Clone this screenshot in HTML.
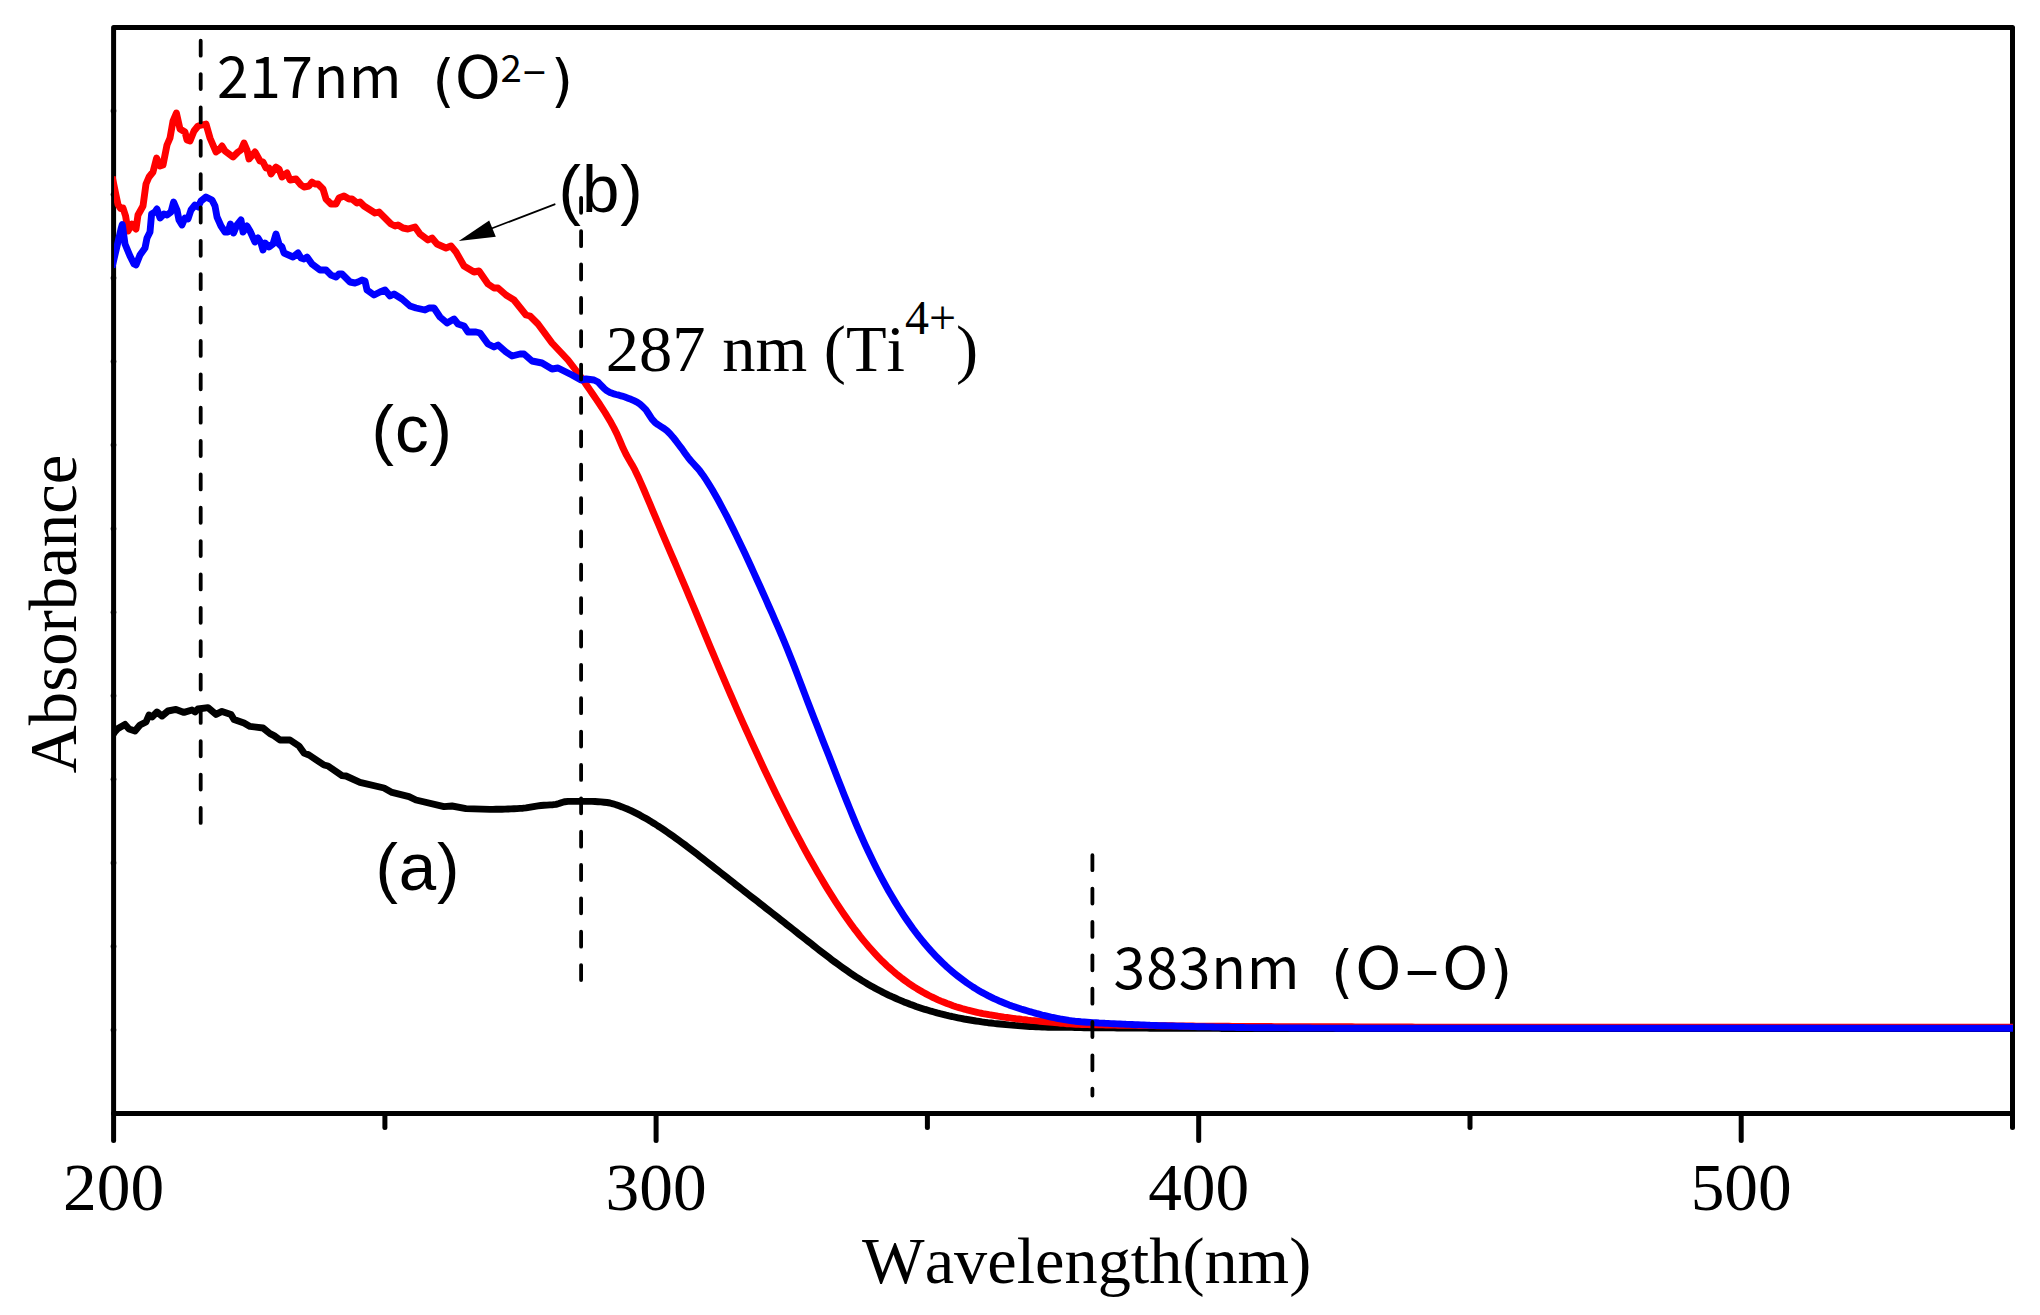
<!DOCTYPE html>
<html lang="en">
<head>
<meta charset="utf-8">
<title>UV-vis absorbance spectra</title>
<style>
html,body{margin:0;padding:0;background:#fff;}
body{width:2040px;height:1315px;overflow:hidden;}
svg{display:block;}
text{font-kerning:none;}
.serif{font-family:"Liberation Serif","Noto Serif CJK SC",serif;}
.sans{font-family:"Liberation Sans","Noto Sans CJK SC",sans-serif;}
.cjk{font-family:"Noto Sans CJK SC","Liberation Sans",sans-serif;}
.dv{font-family:"DejaVu Sans","Liberation Sans",sans-serif;}
</style>
</head>
<body>
<svg width="2040" height="1315" viewBox="0 0 2040 1315">
<rect x="0" y="0" width="2040" height="1315" fill="#ffffff"/>

<!-- frame and ticks -->
<rect x="113.6" y="27.4" width="1898.9" height="1086.1" fill="none" stroke="#000" stroke-width="5.0" stroke-linejoin="round"/>
<g stroke="#000" stroke-width="5" stroke-linecap="round">
<line x1="113.6" y1="1113.5" x2="113.6" y2="1140.5"/>
<line x1="384.9" y1="1113.5" x2="384.9" y2="1127.6"/>
<line x1="656.1" y1="1113.5" x2="656.1" y2="1140.5"/>
<line x1="927.4" y1="1113.5" x2="927.4" y2="1127.6"/>
<line x1="1198.7" y1="1113.5" x2="1198.7" y2="1140.5"/>
<line x1="1470.0" y1="1113.5" x2="1470.0" y2="1127.6"/>
<line x1="1741.2" y1="1113.5" x2="1741.2" y2="1140.5"/>
<line x1="2012.5" y1="1113.5" x2="2012.5" y2="1127.6"/>
</g>
<g fill="#000">
<circle cx="113.5" cy="110.9" r="2.8"/>
<circle cx="113.5" cy="194.5" r="2.8"/>
<circle cx="113.5" cy="278.0" r="2.8"/>
<circle cx="113.5" cy="361.6" r="2.8"/>
<circle cx="113.5" cy="445.1" r="2.8"/>
<circle cx="113.5" cy="528.7" r="2.8"/>
<circle cx="113.5" cy="612.2" r="2.8"/>
<circle cx="113.5" cy="695.8" r="2.8"/>
<circle cx="113.5" cy="779.3" r="2.8"/>
<circle cx="113.5" cy="862.9" r="2.8"/>
<circle cx="113.5" cy="946.4" r="2.8"/>
<circle cx="113.5" cy="1030.0" r="2.8"/>
</g>

<!-- curves: (a) black, (b) red, (c) blue -->
<clipPath id="plotclip"><rect x="113.95" y="20" width="1899.15" height="1100"/></clipPath>
<g fill="none" stroke-width="6.9" stroke-linejoin="round" stroke-linecap="butt" clip-path="url(#plotclip)">
<path stroke="#000000" d="M112.0 736.0L115.0 731.6L118.0 728.4L125.0 724.4L129.0 729.0L135.0 731.0L140.0 725.0L146.0 722.0L149.0 715.0L152.0 717.0L157.0 712.0L162.0 716.0L168.0 711.0L176.0 709.4L184.0 712.4L192.0 710.0L195.0 712.0L198.0 709.0L208.0 707.6L216.0 714.4L222.0 711.4L231.0 714.4L234.0 719.4L244.0 723.0L250.0 726.4L263.0 728.0L270.0 733.6L274.0 735.6L280.0 740.0L290.0 740.0L299.0 746.0L304.0 753.0L309.0 755.0L324.0 765.0L328.0 766.0L342.0 775.6L346.0 776.0L360.0 782.4L384.0 788.0L392.0 792.4L409.0 796.6L416.0 800.0L444.0 806.6L452.0 806.0L466.0 808.6L490.0 809.4L493.0 809.4L496.0 809.3L499.0 809.3L502.0 809.2L505.0 809.1L508.0 809.0L511.0 808.9L514.0 808.7L517.0 808.6L520.0 808.4L523.0 808.2L526.0 807.8L529.0 807.3L532.0 806.8L535.0 806.3L538.0 805.9L541.0 805.5L544.0 805.2L547.0 805.1L550.0 804.9L553.0 804.7L556.0 804.3L559.0 803.5L562.0 802.5L565.0 801.7L568.0 801.4L571.0 801.4L574.0 801.4L577.0 801.4L580.0 801.4L583.0 801.4L586.0 801.4L589.0 801.4L592.0 801.4L595.0 801.5L598.0 801.7L601.0 801.9L604.0 802.2L607.0 802.5L610.0 803.0L613.0 803.8L616.0 804.7L619.0 805.8L622.0 806.9L625.0 808.1L628.0 809.3L631.0 810.7L634.0 812.2L637.0 813.7L640.0 815.2L643.0 816.9L646.0 818.6L649.0 820.3L652.0 822.2L655.0 824.0L658.0 826.0L661.0 827.9L664.0 829.9L667.0 832.0L670.0 834.1L673.0 836.2L676.0 838.3L679.0 840.5L682.0 842.7L685.0 844.9L688.0 847.2L691.0 849.5L694.0 851.8L697.0 854.1L700.0 856.4L703.0 858.7L706.0 861.1L709.0 863.4L712.0 865.8L715.0 868.2L718.0 870.5L721.0 872.9L724.0 875.3L727.0 877.6L730.0 880.0L733.0 882.3L736.0 884.7L739.0 887.0L742.0 889.4L745.0 891.7L748.0 894.1L751.0 896.4L754.0 898.8L757.0 901.1L760.0 903.5L763.0 905.8L766.0 908.2L769.0 910.5L772.0 912.9L775.0 915.3L778.0 917.6L781.0 920.0L784.0 922.3L787.0 924.7L790.0 927.0L793.0 929.4L796.0 931.8L799.0 934.2L802.0 936.5L805.0 938.9L808.0 941.3L811.0 943.6L814.0 946.0L817.0 948.4L820.0 950.7L823.0 953.0L826.0 955.3L829.0 957.6L832.0 959.9L835.0 962.1L838.0 964.3L841.0 966.5L844.0 968.6L847.0 970.7L850.0 972.8L853.0 974.8L856.0 976.8L859.0 978.7L862.0 980.6L865.0 982.4L868.0 984.2L871.0 985.9L874.0 987.6L877.0 989.2L880.0 990.8L883.0 992.4L886.0 993.8L889.0 995.3L892.0 996.7L895.0 998.0L898.0 999.4L901.0 1000.6L904.0 1001.9L907.0 1003.0L910.0 1004.2L913.0 1005.3L916.0 1006.4L919.0 1007.4L922.0 1008.4L925.0 1009.4L928.0 1010.3L931.0 1011.2L934.0 1012.0L937.0 1012.9L940.0 1013.7L943.0 1014.4L946.0 1015.2L949.0 1015.9L952.0 1016.5L955.0 1017.2L958.0 1017.8L961.0 1018.4L964.0 1019.0L967.0 1019.5L970.0 1020.0L973.0 1020.5L976.0 1021.0L979.0 1021.4L982.0 1021.9L985.0 1022.3L988.0 1022.7L991.0 1023.0L994.0 1023.4L997.0 1023.7L1000.0 1024.0L1003.0 1024.3L1006.0 1024.6L1009.0 1024.9L1012.0 1025.1L1015.0 1025.4L1018.0 1025.6L1021.0 1025.9L1024.0 1026.1L1027.0 1026.3L1030.0 1026.5L1033.0 1026.6L1036.0 1026.8L1039.0 1026.9L1042.0 1027.0L1045.0 1027.1L1048.0 1027.2L1051.0 1027.2L1054.0 1027.2L1057.0 1027.2L1060.0 1027.3L1063.0 1027.3L1066.0 1027.3L1069.0 1027.3L1072.0 1027.4L1075.0 1027.5L1078.0 1027.6L1081.0 1027.6L1084.0 1027.7L1087.0 1027.7L1090.0 1027.7L1093.0 1027.8L1096.0 1027.8L1099.0 1027.8L1102.0 1027.8L1105.0 1027.9L1108.0 1027.9L1111.0 1027.9L1114.0 1027.9L1117.0 1028.0L1120.0 1028.0L1123.0 1028.0L1126.0 1028.0L1129.0 1028.0L1132.0 1028.1L1135.0 1028.1L1138.0 1028.1L1141.0 1028.1L1144.0 1028.1L1147.0 1028.1L1150.0 1028.2L1153.0 1028.2L1156.0 1028.2L1159.0 1028.2L1162.0 1028.2L1165.0 1028.2L1168.0 1028.2L1171.0 1028.3L1174.0 1028.3L1177.0 1028.3L1180.0 1028.3L1183.0 1028.3L1186.0 1028.3L1189.0 1028.3L1192.0 1028.3L1195.0 1028.4L1198.0 1028.4L1201.0 1028.4L1204.0 1028.4L1207.0 1028.4L1210.0 1028.4L1213.0 1028.4L1216.0 1028.4L1219.0 1028.4L1222.0 1028.5L1225.0 1028.5L1228.0 1028.5L1231.0 1028.5L1234.0 1028.5L1237.0 1028.5L1240.0 1028.5L1243.0 1028.5L1246.0 1028.5L1249.0 1028.5L1252.0 1028.5L1255.0 1028.5L1258.0 1028.5L1261.0 1028.5L1264.0 1028.6L1267.0 1028.6L1270.0 1028.6L1273.0 1028.6L1276.0 1028.6L1279.0 1028.6L1282.0 1028.6L1285.0 1028.6L1288.0 1028.6L1291.0 1028.6L1294.0 1028.6L1297.0 1028.6L2016.0 1028.6"/>
<path stroke="#ff0000" d="M112.2 176.6L116.0 195.2L118.0 204.5L120.5 208.5L123.0 208.0L125.6 216.0L128.0 231.0L132.0 224.0L136.0 229.0L138.0 215.0L143.0 206.0L146.0 184.0L149.0 177.0L153.0 172.0L156.6 158.0L160.0 166.0L163.0 165.0L167.0 145.0L170.0 138.0L173.0 121.0L176.4 113.0L180.0 129.0L185.0 132.0L187.0 140.0L190.0 141.0L194.0 131.0L198.0 126.0L202.0 125.0L206.0 124.0L210.0 138.0L216.0 152.0L219.0 150.0L222.0 146.0L225.0 151.0L233.0 157.0L238.0 152.0L241.0 150.0L244.0 143.0L247.0 150.0L249.0 159.0L255.0 152.0L260.0 161.0L263.0 162.0L266.0 168.0L269.0 168.0L271.0 174.0L276.0 167.0L279.0 169.0L282.0 177.0L287.0 173.0L290.0 180.0L296.0 179.0L301.0 185.0L304.0 187.0L309.0 186.0L312.0 182.0L315.0 184.0L318.0 184.0L323.0 189.0L326.0 199.0L331.0 204.0L336.0 204.0L339.0 198.0L344.0 196.0L349.0 199.0L352.0 199.0L357.0 203.0L360.0 202.0L364.0 206.0L375.0 213.0L379.0 212.0L384.0 217.0L391.0 224.0L395.0 226.0L398.0 225.0L403.0 228.0L408.0 229.0L415.0 227.0L420.0 234.0L428.0 240.0L432.0 238.0L437.0 244.0L446.0 248.0L451.0 246.0L456.0 252.0L464.0 266.0L474.0 272.0L479.0 271.0L488.0 284.0L494.0 288.0L498.0 288.0L506.0 295.0L514.0 300.0L526.0 315.0L530.0 316.0L538.0 324.0L552.0 343.0L568.0 360.0L581.0 377.0L584.0 381.3L587.0 385.7L590.0 390.1L593.0 394.5L596.0 398.9L599.0 403.3L602.0 407.8L605.0 412.5L608.0 417.5L611.0 422.6L614.0 428.1L617.0 434.1L620.0 441.0L623.0 448.1L626.0 454.3L629.0 459.6L632.0 464.7L635.0 470.2L638.0 476.4L641.0 483.1L644.0 490.0L647.0 497.1L650.0 504.2L653.0 511.3L656.0 518.4L659.0 525.5L662.0 532.6L665.0 539.6L668.0 546.6L671.0 553.6L674.0 560.5L677.0 567.5L680.0 574.6L683.0 581.6L686.0 588.7L689.0 595.8L692.0 603.0L695.0 610.2L698.0 617.4L701.0 624.6L704.0 631.9L707.0 639.1L710.0 646.3L713.0 653.4L716.0 660.5L719.0 667.6L722.0 674.6L725.0 681.6L728.0 688.6L731.0 695.5L734.0 702.4L737.0 709.3L740.0 716.1L743.0 722.8L746.0 729.5L749.0 736.2L752.0 742.8L755.0 749.3L758.0 755.8L761.0 762.3L764.0 768.7L767.0 775.0L770.0 781.3L773.0 787.5L776.0 793.7L779.0 799.8L782.0 805.8L785.0 811.8L788.0 817.7L791.0 823.6L794.0 829.4L797.0 835.1L800.0 840.7L803.0 846.3L806.0 851.8L809.0 857.2L812.0 862.5L815.0 867.8L818.0 873.0L821.0 878.1L824.0 883.1L827.0 888.1L830.0 892.9L833.0 897.7L836.0 902.3L839.0 906.9L842.0 911.4L845.0 915.8L848.0 920.0L851.0 924.2L854.0 928.3L857.0 932.2L860.0 936.1L863.0 939.8L866.0 943.4L869.0 946.9L872.0 950.3L875.0 953.6L878.0 956.8L881.0 959.9L884.0 962.8L887.0 965.7L890.0 968.4L893.0 971.0L896.0 973.6L899.0 976.0L902.0 978.4L905.0 980.6L908.0 982.8L911.0 984.8L914.0 986.8L917.0 988.7L920.0 990.5L923.0 992.3L926.0 993.9L929.0 995.5L932.0 997.0L935.0 998.4L938.0 999.8L941.0 1001.1L944.0 1002.3L947.0 1003.5L950.0 1004.6L953.0 1005.7L956.0 1006.7L959.0 1007.6L962.0 1008.5L965.0 1009.3L968.0 1010.2L971.0 1010.9L974.0 1011.6L977.0 1012.3L980.0 1013.0L983.0 1013.6L986.0 1014.1L989.0 1014.7L992.0 1015.2L995.0 1015.7L998.0 1016.2L1001.0 1016.6L1004.0 1017.1L1007.0 1017.5L1010.0 1017.9L1013.0 1018.3L1016.0 1018.7L1019.0 1019.0L1022.0 1019.4L1025.0 1019.7L1028.0 1020.1L1031.0 1020.4L1034.0 1020.6L1037.0 1020.9L1040.0 1021.2L1043.0 1021.5L1046.0 1021.8L1049.0 1022.1L1052.0 1022.4L1055.0 1022.6L1058.0 1022.9L1061.0 1023.2L1064.0 1023.4L1067.0 1023.7L1070.0 1023.9L1073.0 1024.1L1076.0 1024.2L1079.0 1024.4L1082.0 1024.5L1085.0 1024.5L1088.0 1024.6L1091.0 1024.7L1094.0 1024.8L1097.0 1024.8L1100.0 1024.9L1103.0 1024.9L1106.0 1025.0L1109.0 1025.0L1112.0 1025.1L1115.0 1025.1L1118.0 1025.2L1121.0 1025.2L1124.0 1025.3L1127.0 1025.3L1130.0 1025.3L1133.0 1025.4L1136.0 1025.4L1139.0 1025.5L1142.0 1025.5L1145.0 1025.5L1148.0 1025.6L1151.0 1025.6L1154.0 1025.6L1157.0 1025.7L1160.0 1025.7L1163.0 1025.7L1166.0 1025.8L1169.0 1025.8L1172.0 1025.8L1175.0 1025.9L1178.0 1025.9L1181.0 1025.9L1184.0 1026.0L1187.0 1026.0L1190.0 1026.0L1193.0 1026.0L1196.0 1026.1L1199.0 1026.1L1202.0 1026.1L1205.0 1026.1L1208.0 1026.2L1211.0 1026.2L1214.0 1026.2L1217.0 1026.2L1220.0 1026.3L1223.0 1026.3L1226.0 1026.3L1229.0 1026.3L1232.0 1026.4L1235.0 1026.4L1238.0 1026.4L1241.0 1026.4L1244.0 1026.4L1247.0 1026.4L1250.0 1026.5L1253.0 1026.5L1256.0 1026.5L1259.0 1026.5L1262.0 1026.5L1265.0 1026.5L1268.0 1026.5L1271.0 1026.5L1274.0 1026.6L1277.0 1026.6L1280.0 1026.6L1283.0 1026.6L1286.0 1026.6L1289.0 1026.6L1292.0 1026.6L1295.0 1026.6L1298.0 1026.7L1301.0 1026.7L1304.0 1026.7L1307.0 1026.7L1310.0 1026.7L1313.0 1026.7L1316.0 1026.7L1319.0 1026.7L1322.0 1026.7L1325.0 1026.8L1328.0 1026.8L1331.0 1026.8L1334.0 1026.8L1337.0 1026.8L1340.0 1026.8L1343.0 1026.8L1346.0 1026.8L1349.0 1026.8L1352.0 1026.8L1355.0 1026.9L1358.0 1026.9L1361.0 1026.9L1364.0 1026.9L1367.0 1026.9L1370.0 1026.9L1373.0 1026.9L1376.0 1026.9L1379.0 1026.9L1382.0 1026.9L1385.0 1026.9L1388.0 1027.0L1391.0 1027.0L1394.0 1027.0L1397.0 1027.0L1400.0 1027.0L1403.0 1027.0L1406.0 1027.0L1409.0 1027.0L1412.0 1027.0L1415.0 1027.1L1418.0 1027.1L1421.0 1027.1L1424.0 1027.1L1427.0 1027.1L1430.0 1027.1L1433.0 1027.1L1436.0 1027.1L1439.0 1027.2L1442.0 1027.2L1445.0 1027.2L1448.0 1027.2L1451.0 1027.2L1454.0 1027.2L1457.0 1027.2L2016.0 1027.2"/>
<path stroke="#0000ff" d="M112.0 267.5L115.0 254.7L118.0 242.0L121.0 229.0L122.3 224.5L125.0 244.0L130.0 256.0L134.0 264.0L136.0 265.0L140.0 255.0L145.0 248.0L147.0 238.0L150.0 232.0L151.6 214.0L155.0 212.0L157.0 209.0L160.0 218.0L164.0 214.0L167.0 215.0L171.0 212.0L173.6 202.0L177.0 210.0L179.0 220.0L182.0 225.0L185.0 218.0L188.0 219.0L191.0 210.0L195.0 205.0L198.0 207.0L201.0 201.0L206.0 197.0L212.0 200.0L215.0 206.0L217.0 217.0L221.0 226.0L225.0 232.0L228.0 232.0L230.4 224.0L233.6 233.0L237.0 225.0L241.0 220.0L243.0 232.0L247.0 226.0L250.0 231.0L255.0 242.0L258.0 238.0L261.0 243.0L263.0 250.0L265.0 243.0L269.0 247.0L273.0 244.0L276.0 234.0L279.0 244.0L282.0 247.0L284.0 253.0L293.0 257.0L298.0 253.0L301.0 258.0L304.0 259.0L307.0 257.0L312.0 264.0L320.0 270.0L326.0 270.0L331.0 275.0L336.0 277.0L339.0 274.0L342.0 274.0L350.0 282.0L355.0 283.0L358.0 282.0L362.0 280.0L365.0 281.0L367.0 290.0L374.0 295.0L380.0 292.0L385.0 290.0L390.0 296.0L394.0 294.0L402.0 299.0L410.0 306.0L416.0 308.0L425.0 310.0L429.0 308.0L434.0 308.0L440.0 317.0L447.0 323.0L454.0 319.0L458.0 324.0L464.0 326.0L468.0 332.0L476.0 332.0L480.0 333.0L488.0 344.0L494.0 347.0L498.0 345.0L506.0 352.0L512.0 356.0L520.0 354.0L524.0 354.0L532.0 361.0L542.0 363.0L552.0 369.0L558.0 368.0L572.0 375.0L581.0 380.0L586.0 379.0L594.0 380.0L598.0 382.0L601.0 385.3L604.0 388.3L607.0 390.8L610.0 392.5L613.0 393.6L616.0 394.5L619.0 395.2L622.0 396.1L625.0 397.1L628.0 398.2L631.0 399.3L634.0 400.7L637.0 402.2L640.0 404.2L643.0 406.8L646.0 409.9L649.0 414.5L652.0 419.1L655.0 422.4L658.0 424.7L661.0 426.6L664.0 428.5L667.0 430.8L670.0 433.8L673.0 437.2L676.0 441.0L679.0 445.0L682.0 448.9L685.0 453.2L688.0 457.3L691.0 461.0L694.0 464.3L697.0 467.6L700.0 471.1L703.0 475.2L706.0 479.7L709.0 484.4L712.0 489.3L715.0 494.5L718.0 499.8L721.0 505.3L724.0 511.0L727.0 516.7L730.0 522.6L733.0 528.6L736.0 534.7L739.0 540.9L742.0 547.2L745.0 553.5L748.0 560.0L751.0 566.5L754.0 573.1L757.0 579.7L760.0 586.3L763.0 593.0L766.0 599.7L769.0 606.5L772.0 613.2L775.0 620.1L778.0 626.9L781.0 633.9L784.0 641.0L787.0 648.3L790.0 655.7L793.0 663.3L796.0 671.0L799.0 678.9L802.0 686.7L805.0 694.6L808.0 702.4L811.0 710.2L814.0 717.9L817.0 725.6L820.0 733.2L823.0 740.9L826.0 748.5L829.0 756.1L832.0 763.8L835.0 771.5L838.0 779.2L841.0 786.8L844.0 794.4L847.0 801.9L850.0 809.3L853.0 816.6L856.0 823.8L859.0 830.8L862.0 837.6L865.0 844.3L868.0 850.8L871.0 857.1L874.0 863.2L877.0 869.2L880.0 875.0L883.0 880.6L886.0 886.1L889.0 891.5L892.0 896.6L895.0 901.6L898.0 906.5L901.0 911.2L904.0 915.8L907.0 920.2L910.0 924.5L913.0 928.7L916.0 932.7L919.0 936.6L922.0 940.3L925.0 944.0L928.0 947.5L931.0 950.9L934.0 954.1L937.0 957.3L940.0 960.3L943.0 963.2L946.0 966.1L949.0 968.8L952.0 971.4L955.0 973.9L958.0 976.3L961.0 978.6L964.0 980.8L967.0 983.0L970.0 985.0L973.0 987.0L976.0 988.9L979.0 990.7L982.0 992.4L985.0 994.0L988.0 995.6L991.0 997.1L994.0 998.6L997.0 999.9L1000.0 1001.3L1003.0 1002.5L1006.0 1003.7L1009.0 1004.9L1012.0 1006.0L1015.0 1007.0L1018.0 1008.0L1021.0 1009.0L1024.0 1009.9L1027.0 1010.8L1030.0 1011.7L1033.0 1012.5L1036.0 1013.4L1039.0 1014.2L1042.0 1015.0L1045.0 1015.7L1048.0 1016.4L1051.0 1017.1L1054.0 1017.7L1057.0 1018.3L1060.0 1018.9L1063.0 1019.4L1066.0 1019.9L1069.0 1020.4L1072.0 1020.8L1075.0 1021.2L1078.0 1021.5L1081.0 1021.8L1084.0 1022.0L1087.0 1022.2L1090.0 1022.4L1093.0 1022.6L1096.0 1022.8L1099.0 1023.0L1102.0 1023.1L1105.0 1023.3L1108.0 1023.4L1111.0 1023.6L1114.0 1023.7L1117.0 1023.9L1120.0 1024.0L1123.0 1024.1L1126.0 1024.3L1129.0 1024.4L1132.0 1024.5L1135.0 1024.7L1138.0 1024.8L1141.0 1024.9L1144.0 1025.0L1147.0 1025.1L1150.0 1025.3L1153.0 1025.4L1156.0 1025.5L1159.0 1025.6L1162.0 1025.7L1165.0 1025.8L1168.0 1025.9L1171.0 1025.9L1174.0 1026.0L1177.0 1026.1L1180.0 1026.2L1183.0 1026.3L1186.0 1026.4L1189.0 1026.4L1192.0 1026.5L1195.0 1026.6L1198.0 1026.7L1201.0 1026.7L1204.0 1026.8L1207.0 1026.9L1210.0 1026.9L1213.0 1027.0L1216.0 1027.1L1219.0 1027.1L1222.0 1027.2L1225.0 1027.3L1228.0 1027.3L1231.0 1027.4L1234.0 1027.4L1237.0 1027.5L1240.0 1027.5L1243.0 1027.5L1246.0 1027.6L1249.0 1027.6L1252.0 1027.6L1255.0 1027.7L1258.0 1027.7L1261.0 1027.7L1264.0 1027.8L1267.0 1027.8L1270.0 1027.8L1273.0 1027.8L1276.0 1027.9L1279.0 1027.9L1282.0 1027.9L1285.0 1027.9L1288.0 1027.9L1291.0 1028.0L1294.0 1028.0L1297.0 1028.0L1300.0 1028.0L1303.0 1028.0L1306.0 1028.0L1309.0 1028.0L1312.0 1028.1L1315.0 1028.1L1318.0 1028.1L1321.0 1028.1L1324.0 1028.1L1327.0 1028.1L1330.0 1028.1L1333.0 1028.1L1336.0 1028.2L1339.0 1028.2L1342.0 1028.2L1345.0 1028.2L1348.0 1028.2L1351.0 1028.2L1354.0 1028.2L1357.0 1028.2L2016.0 1028.2"/>
</g>

<!-- dashed guide lines -->
<g stroke="#000" stroke-width="3.8" stroke-linecap="round" fill="none" stroke-dasharray="15 18.36">
<line x1="200.7" y1="40.7" x2="200.7" y2="822.9"/>
<line x1="581.1" y1="197.8" x2="581.1" y2="980.8"/>
<line x1="1092.4" y1="855.2" x2="1092.4" y2="1095.6"/>
</g>

<!-- axis tick labels and titles -->
<g class="serif" font-size="67.4" fill="#000">
<text x="113.6" y="1210.3" text-anchor="middle">200</text>
<text x="656.1" y="1210.3" text-anchor="middle">300</text>
<text x="1198.7" y="1210.3" text-anchor="middle">400</text>
<text x="1741.2" y="1210.3" text-anchor="middle">500</text>
</g>

<g class="serif" font-size="66.3" fill="#000">
<text x="1086.7" y="1282.5" text-anchor="middle">Wavelength(nm)</text>
<text transform="translate(76 614) rotate(-90)" text-anchor="middle" font-size="66.8">Absorbance</text>
<text x="605.8" y="371" font-size="66.5">287 nm (Ti<tspan font-size="48" dy="-37">4+</tspan><tspan dy="37">)</tspan></text>
</g>

<!-- curve labels -->
<g class="sans" font-size="67.3" fill="#000" letter-spacing="0.9">
<text x="375.4" y="889.8">(a)</text>
<text x="558.6" y="212.4">(b)</text>
<text x="371.6" y="451.5">(c)</text>
</g>

<!-- peak annotations -->
<g fill="#000">
<text class="cjk" x="217" y="98.3" font-size="57" letter-spacing="0.5">217nm</text>
<text class="dv" x="432.2" y="99.9" font-size="57.6">(</text>
<text class="dv" x="455" y="98.3" font-size="58">O</text>
<text class="cjk" x="500.5" y="82" font-size="38.4">2</text>
<text class="cjk" x="523" y="88.4" font-size="41">−</text>
<text class="dv" x="550.8" y="99.9" font-size="57.6">)</text>
<text class="cjk" x="1113.6" y="988.6" font-size="57" letter-spacing="0.9">383nm</text>
<text class="dv" x="1331.1" y="990.9" font-size="57">(</text>
<text class="dv" x="1355.4" y="989" font-size="58">O</text>
<text class="cjk" x="1404.8" y="990.9" font-size="64.4">–</text>
<text class="dv" x="1442.6" y="989" font-size="58">O</text>
<text class="dv" x="1490" y="990.9" font-size="57">)</text>
</g>

<!-- arrow for (b) -->
<line x1="554.6" y1="204.3" x2="485" y2="231" stroke="#000" stroke-width="1.8" stroke-linecap="round"/>
<polygon points="458.8,241 489.2,220.4 495.8,236.8" fill="#000"/>
</svg>
</body>
</html>
